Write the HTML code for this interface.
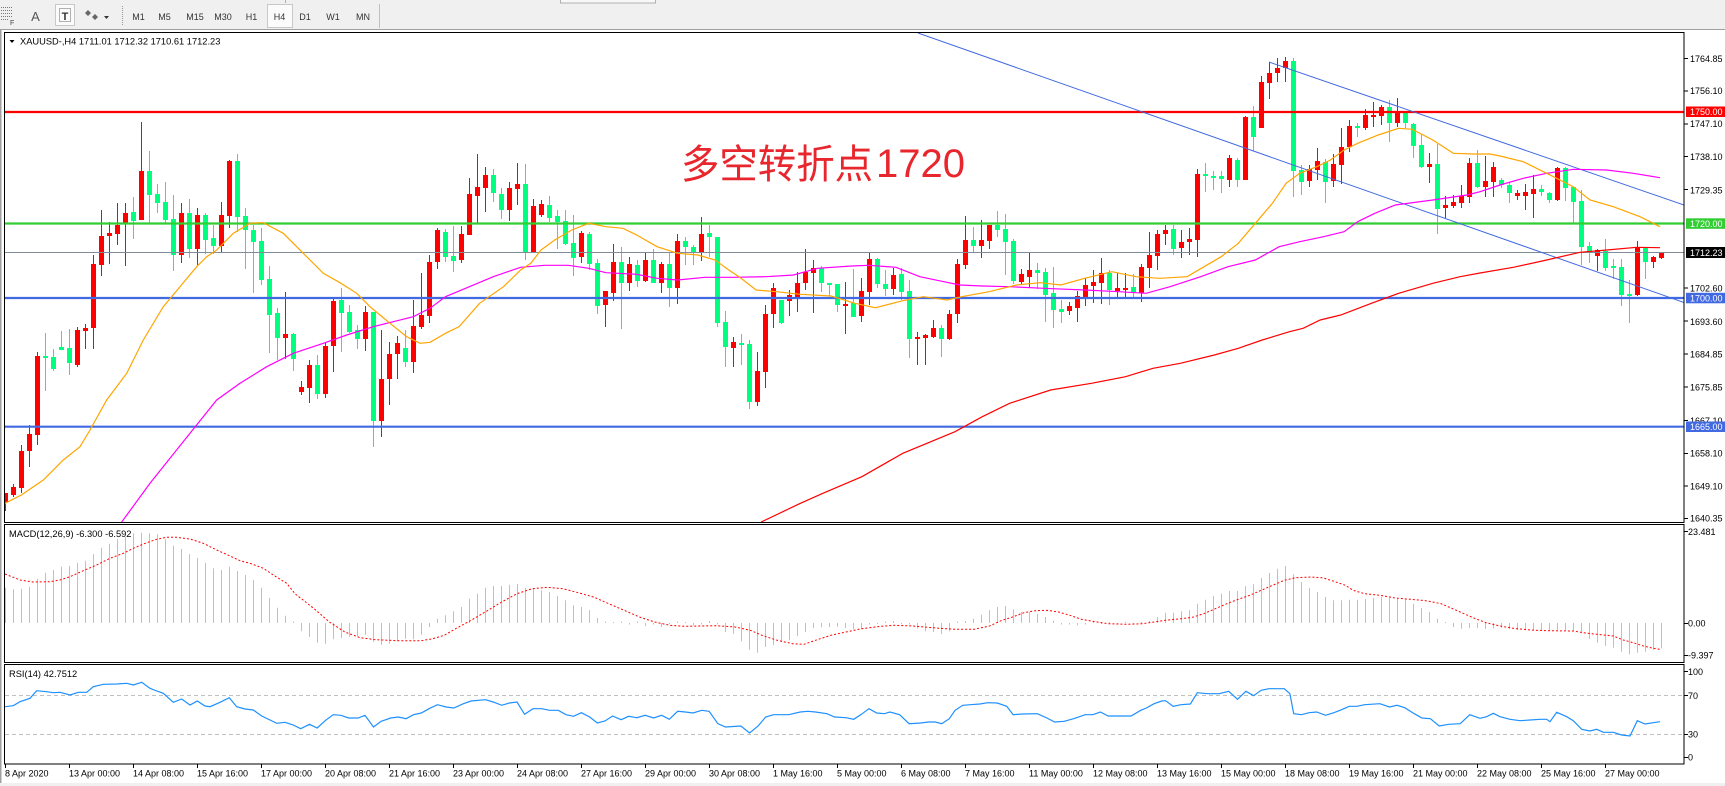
<!DOCTYPE html>
<html><head><meta charset="utf-8"><style>html,body{margin:0;padding:0;background:#fff;}svg{display:block;}</style></head>
<body>
<svg width="1725" height="786" viewBox="0 0 1725 786" xmlns="http://www.w3.org/2000/svg" font-family="'Liberation Sans', sans-serif">
<defs>
<clipPath id="cm"><rect x="5" y="33" width="1679" height="489"/></clipPath>
<clipPath id="cd"><rect x="5" y="525" width="1679" height="137"/></clipPath>
<clipPath id="cr"><rect x="5" y="665" width="1679" height="99"/></clipPath>
</defs>
<rect width="1725" height="786" fill="#ffffff"/>
<!-- toolbar -->
<rect width="1725" height="30" fill="#f0f0f0"/>
<line x1="0" y1="29.5" x2="1725" y2="29.5" stroke="#a0a0a0"/>
<rect x="560.5" y="-1" width="95" height="4" fill="#f8f8f8" stroke="#b0b0b0"/>
<line x1="285.5" y1="0" x2="285.5" y2="3" stroke="#b0b0b0"/>
<g stroke="#777" stroke-dasharray="1 1">
<line x1="1" y1="7.5" x2="12" y2="7.5"/><line x1="1" y1="10.5" x2="12" y2="10.5"/><line x1="1" y1="13.5" x2="12" y2="13.5"/><line x1="1" y1="16.5" x2="12" y2="16.5"/><line x1="1" y1="19.5" x2="9" y2="19.5"/>
</g>
<text x="10" y="25" font-size="7" fill="#444">F</text>
<text x="35.5" y="21" font-size="13" fill="#555" text-anchor="middle">A</text>
<rect x="55.5" y="4.5" width="19" height="21" fill="#fbfbfb" stroke="#c8c8c8"/>
<rect x="59.5" y="8.5" width="11" height="13" fill="none" stroke="#666" stroke-dasharray="1 1"/>
<text x="65" y="20" font-size="11" font-weight="bold" fill="#333" text-anchor="middle">T</text>
<path d="M88 10l3 3-3 3-3-3z M95 14l3 3-3 3-3-3z" fill="#666"/>
<path d="M104 16h5l-2.5 3z" fill="#333"/>
<line x1="122.5" y1="6" x2="122.5" y2="25" stroke="#999" stroke-dasharray="1 1"/>
<rect x="267.5" y="4.5" width="25" height="23" fill="#fbfbfb" stroke="#c8c8c8"/>
<g font-size="9" fill="#333" text-anchor="middle">
<text x="138.5" y="20">M1</text><text x="164.5" y="20">M5</text><text x="195" y="20">M15</text><text x="223" y="20">M30</text><text x="251.5" y="20">H1</text><text x="279.5" y="20">H4</text><text x="305" y="20">D1</text><text x="333" y="20">W1</text><text x="363" y="20">MN</text>
</g>
<line x1="379.5" y1="4" x2="379.5" y2="28" stroke="#c0c0c0"/>
<!-- left and bottom strips -->
<rect x="0" y="30" width="1.5" height="753" fill="#a0a0a0"/>
<rect x="0" y="783" width="1725" height="3" fill="#f0f0f0"/>

<!-- MAIN PANEL -->
<g clip-path="url(#cm)">
<!-- candles -->
<path fill="none" stroke="#ff0000" stroke-width="1" d="M5.5 493V511M13.5 484V497M21.5 445V493M29.5 425V467M37.5 352V445M77.5 327V367M85.5 324V349M93.5 255V349M101.5 210V276M109.5 222V264M117.5 203V245M125.5 203V266M141.5 122V220M181.5 203V263M197.5 208V265M221.5 202V252M229.5 160V228M285.5 292V359M301.5 381V395M309.5 360V403M325.5 343V398M333.5 299V372M365.5 306V351M381.5 330V437M389.5 342V405M397.5 336V379M413.5 300V373M421.5 273V329M429.5 255V323M437.5 228V269M461.5 226V263M469.5 178V235M477.5 154V223M485.5 167V212M509.5 182V221M517.5 163V205M533.5 199V252M541.5 200V217M581.5 231V263M605.5 291V327M613.5 244V301M629.5 257V291M645.5 253V282M661.5 262V293M677.5 234V304M701.5 217V261M733.5 337V367M757.5 352V406M765.5 305V388M773.5 283V328M789.5 290V316M797.5 272V312M805.5 249V290M813.5 260V313M845.5 282V334M861.5 278V322M869.5 252V305M893.5 268V295M917.5 332V365M925.5 334V365M933.5 320V338M949.5 310V340M957.5 259V323M965.5 216V269M981.5 220V258M989.5 225V249M1021.5 269V284M1029.5 253V288M1069.5 302V315M1077.5 291V322M1085.5 278V306M1093.5 270V303M1101.5 258V304M1117.5 273V298M1125.5 273V299M1141.5 264V302M1149.5 232V288M1157.5 230V270M1165.5 225V245M1181.5 230V258M1189.5 228V255M1197.5 169V257M1229.5 155V187M1245.5 116V180M1261.5 76V128M1269.5 62V99M1277.5 58V82M1285.5 57V82M1309.5 165V187M1317.5 148V180M1333.5 154V187M1341.5 128V184M1349.5 120V152M1365.5 109V130M1373.5 102V127M1381.5 105V125M1397.5 98V127M1429.5 153V183M1445.5 196V218M1453.5 195V208M1461.5 185V208M1469.5 158V203M1485.5 156V197M1493.5 162V197M1517.5 190V200M1525.5 184V210M1533.5 175V218M1557.5 167V201M1597.5 249V271M1637.5 241V296M1653.5 256V268M1661.5 252V259"/>
<path fill="none" stroke="#00ff7f" stroke-width="1" d="M45.5 333V391M53.5 349V371M61.5 331V350M69.5 329V375M133.5 197V239M149.5 151V223M157.5 184V213M165.5 182V223M173.5 195V271M189.5 199V258M205.5 213V254M213.5 225V254M237.5 154V232M245.5 208V269M253.5 225V293M261.5 228V285M269.5 266V353M277.5 308V360M293.5 333V371M317.5 355V399M341.5 288V352M349.5 305V333M357.5 325V349M373.5 312V447M405.5 330V367M445.5 229V262M453.5 226V272M493.5 169V202M501.5 188V219M525.5 164V260M549.5 196V222M557.5 210V249M565.5 210V245M573.5 215V276M589.5 232V270M597.5 259V314M621.5 247V329M637.5 260V287M653.5 249V282M669.5 253V307M685.5 237V265M693.5 245V265M709.5 225V257M717.5 237V327M725.5 311V367M741.5 334V365M749.5 340V409M781.5 300V324M821.5 266V292M829.5 283V296M837.5 284V312M853.5 269V317M877.5 258V288M885.5 270V296M901.5 268V300M909.5 280V358M941.5 325V357M973.5 227V253M997.5 211V237M1005.5 214V275M1013.5 239V284M1037.5 263V289M1045.5 268V322M1053.5 267V328M1061.5 300V323M1109.5 270V305M1133.5 274V298M1173.5 225V255M1205.5 163V192M1213.5 171V190M1221.5 171V193M1237.5 158V187M1253.5 106V151M1293.5 58V197M1301.5 165V195M1325.5 159V203M1357.5 123V137M1389.5 100V142M1405.5 111V128M1413.5 123V158M1421.5 135V168M1437.5 144V234M1477.5 150V188M1501.5 178V188M1509.5 182V203M1541.5 185V196M1549.5 192V203M1565.5 167V201M1573.5 187V223M1581.5 190V265M1589.5 242V263M1605.5 239V271M1613.5 259V279M1621.5 259V306M1629.5 280V323M1645.5 248V279"/>
<path fill="#ff0000" d="M3 493h5v9h-5zM11 487h5v8h-5zM19 451h5v37h-5zM27 434h5v17h-5zM35 356h5v79h-5zM75 330h5v35h-5zM83 328h5v3h-5zM91 264h5v64h-5zM99 236h5v29h-5zM107 233h5v3h-5zM115 225h5v9h-5zM123 213h5v10h-5zM139 171h5v49h-5zM179 213h5v42h-5zM195 215h5v34h-5zM219 215h5v31h-5zM227 161h5v55h-5zM283 334h5v4h-5zM299 387h5v5h-5zM307 365h5v23h-5zM323 346h5v48h-5zM331 301h5v45h-5zM363 312h5v27h-5zM379 379h5v42h-5zM387 354h5v25h-5zM395 343h5v11h-5zM411 326h5v36h-5zM419 315h5v12h-5zM427 262h5v54h-5zM435 230h5v32h-5zM459 234h5v26h-5zM467 194h5v41h-5zM475 187h5v9h-5zM483 175h5v13h-5zM507 188h5v22h-5zM515 184h5v5h-5zM531 206h5v46h-5zM539 204h5v11h-5zM579 233h5v24h-5zM603 291h5v14h-5zM611 262h5v31h-5zM627 264h5v19h-5zM643 260h5v21h-5zM659 264h5v19h-5zM675 241h5v47h-5zM699 234h5v18h-5zM731 342h5v6h-5zM755 371h5v31h-5zM763 314h5v58h-5zM771 288h5v26h-5zM787 295h5v6h-5zM795 283h5v14h-5zM803 272h5v11h-5zM811 268h5v5h-5zM843 304h5v2h-5zM859 291h5v25h-5zM867 259h5v33h-5zM891 275h5v14h-5zM915 337h5v2h-5zM923 335h5v3h-5zM931 328h5v9h-5zM947 314h5v25h-5zM955 264h5v50h-5zM963 240h5v25h-5zM979 240h5v6h-5zM987 225h5v16h-5zM1019 274h5v8h-5zM1027 270h5v7h-5zM1067 306h5v5h-5zM1075 296h5v12h-5zM1083 285h5v12h-5zM1091 282h5v4h-5zM1099 273h5v10h-5zM1115 288h5v3h-5zM1123 288h5v2h-5zM1139 267h5v26h-5zM1147 255h5v13h-5zM1155 234h5v22h-5zM1163 230h5v4h-5zM1179 242h5v6h-5zM1187 239h5v3h-5zM1195 174h5v66h-5zM1227 158h5v22h-5zM1243 117h5v63h-5zM1259 82h5v46h-5zM1267 73h5v10h-5zM1275 68h5v5h-5zM1283 61h5v7h-5zM1307 169h5v12h-5zM1315 161h5v9h-5zM1331 164h5v17h-5zM1339 147h5v18h-5zM1347 126h5v21h-5zM1363 115h5v13h-5zM1371 115h5v2h-5zM1379 107h5v9h-5zM1395 112h5v11h-5zM1427 164h5v3h-5zM1443 205h5v3h-5zM1451 202h5v4h-5zM1459 196h5v7h-5zM1467 163h5v34h-5zM1483 181h5v6h-5zM1491 167h5v15h-5zM1515 193h5v3h-5zM1523 192h5v4h-5zM1531 189h5v5h-5zM1555 168h5v32h-5zM1595 250h5v6h-5zM1635 247h5v48h-5zM1651 257h5v5h-5zM1659 252h5v6h-5z"/>
<path fill="#00ff7f" d="M43 356h5v2h-5zM51 357h5v12h-5zM59 347h5v3h-5zM67 348h5v15h-5zM131 212h5v9h-5zM147 171h5v24h-5zM155 194h5v9h-5zM163 202h5v18h-5zM171 219h5v36h-5zM187 213h5v36h-5zM203 215h5v25h-5zM211 238h5v8h-5zM235 161h5v56h-5zM243 216h5v14h-5zM251 230h5v12h-5zM259 241h5v39h-5zM267 279h5v36h-5zM275 313h5v25h-5zM291 334h5v25h-5zM315 365h5v29h-5zM339 300h5v13h-5zM347 312h5v20h-5zM355 330h5v9h-5zM371 312h5v109h-5zM403 348h5v14h-5zM443 232h5v25h-5zM451 256h5v5h-5zM491 175h5v18h-5zM499 194h5v16h-5zM523 184h5v68h-5zM547 205h5v13h-5zM555 216h5v6h-5zM563 221h5v23h-5zM571 243h5v15h-5zM587 234h5v30h-5zM595 263h5v43h-5zM619 262h5v21h-5zM635 265h5v16h-5zM651 260h5v23h-5zM667 264h5v24h-5zM683 241h5v6h-5zM691 247h5v5h-5zM707 233h5v4h-5zM715 237h5v86h-5zM723 322h5v25h-5zM739 343h5v2h-5zM747 344h5v58h-5zM779 300h5v23h-5zM819 268h5v15h-5zM827 283h5v2h-5zM835 284h5v21h-5zM851 303h5v14h-5zM875 259h5v25h-5zM883 284h5v5h-5zM899 274h5v18h-5zM907 291h5v48h-5zM939 328h5v11h-5zM971 240h5v6h-5zM995 225h5v5h-5zM1003 229h5v13h-5zM1011 241h5v40h-5zM1035 270h5v3h-5zM1043 272h5v23h-5zM1051 293h5v17h-5zM1059 309h5v3h-5zM1107 273h5v17h-5zM1131 287h5v5h-5zM1171 229h5v20h-5zM1203 174h5v2h-5zM1211 176h5v2h-5zM1219 176h5v3h-5zM1235 160h5v20h-5zM1251 117h5v20h-5zM1291 61h5v110h-5zM1299 170h5v12h-5zM1323 162h5v20h-5zM1355 126h5v2h-5zM1387 107h5v16h-5zM1403 113h5v10h-5zM1411 124h5v22h-5zM1419 145h5v22h-5zM1435 164h5v45h-5zM1475 163h5v24h-5zM1499 180h5v5h-5zM1507 185h5v8h-5zM1539 189h5v3h-5zM1547 193h5v7h-5zM1563 168h5v20h-5zM1571 187h5v15h-5zM1579 201h5v46h-5zM1587 246h5v7h-5zM1603 251h5v17h-5zM1611 266h5v2h-5zM1619 267h5v28h-5zM1627 294h5v2h-5zM1643 248h5v14h-5z"/>
<!-- horizontal levels -->
<line x1="4" y1="252.5" x2="1684" y2="252.5" stroke="#7f8c99" stroke-width="1"/>
<line x1="4" y1="112" x2="1684" y2="112" stroke="#ff0000" stroke-width="2.2"/>
<line x1="4" y1="223.5" x2="1684" y2="223.5" stroke="#32cd32" stroke-width="2.2"/>
<line x1="4" y1="298" x2="1684" y2="298" stroke="#4169e1" stroke-width="2.2"/>
<line x1="4" y1="426.7" x2="1684" y2="426.7" stroke="#4169e1" stroke-width="2.2"/>
<!-- trend lines -->
<line x1="918" y1="33" x2="1684" y2="302.5" stroke="#4169e1" stroke-width="1"/>
<line x1="1269" y1="62" x2="1684" y2="205" stroke="#4169e1" stroke-width="1"/>
<!-- MAs -->
<polyline fill="none" stroke="#ff0000" stroke-width="1.2" points="761.2,522 800.4,503.3 824.3,492.7 861.9,476.7 902.8,453.3 955,431.7 982.3,416.7 1009.6,403.3 1050.6,390 1091.5,383.3 1125.6,376.7 1153,368.3 1180.3,363.3 1214.4,355 1238.3,348.3 1262.2,340 1289.5,331.7 1303.1,328.3 1320.2,320 1340.7,315 1371.4,303.3 1398.7,293.3 1432.8,283.3 1460.1,276.7 1480,273 1513.3,267.3 1546.7,260 1580,252.3 1606.7,250 1636.7,247.3 1660,247.7"/>
<polyline fill="none" stroke="#ff00ff" stroke-width="1.2" points="121.7,522 150,483.3 190,433.3 216.7,400 240,383.3 266.7,366.7 293.3,353.3 323.3,343.3 346.7,335 373.3,326.7 393.3,321.7 413.3,316.7 430,308.3 445.5,296.7 469.4,286.7 493.3,276.7 520.6,267.3 544.5,265.3 568.3,265.3 588.8,268.3 605.9,272.7 636.6,274.3 657.1,278.3 677.6,280 704.9,277.3 732.2,277.3 766.3,276.7 793.6,275 817.5,268.3 851.6,266 868.7,265.3 896,267.3 919.9,276.7 943.8,281.7 960,285 982.3,286 1009.6,286.7 1043.7,288.3 1084.7,290 1118.8,291.7 1146.1,293.3 1170,286.7 1200.7,276.7 1228,266.7 1255.3,260 1279.2,246.7 1299.7,241.7 1323.6,236.7 1344.1,231.7 1357.7,221.7 1374.8,213.3 1395.3,205 1432.8,200 1467,195 1480,191.7 1500,185 1523.3,178.3 1546.7,173.3 1573.3,169.3 1606.7,170 1633.3,173.3 1660,177.7"/>
<polyline fill="none" stroke="#ffa500" stroke-width="1.2" points="5,503.3 21.3,495 43.3,480 63.3,460 80,446.7 90,430 106.7,400 126.7,373.3 143.3,340 163.3,306.7 180,286.7 196.7,266.7 206.7,256.7 216.7,250 233.3,233.3 250,223.3 263.3,222.7 283.3,233.3 303.3,253.3 323.3,273.3 340,282.7 356.7,293.3 370,306.7 390,323.3 406.7,336.7 420,343.3 430,342.3 445.5,333.3 459.1,326.7 479.6,303.3 503.5,286.7 520.6,270 530.8,263.3 541,250 554.7,240 571.8,230 588.8,223.3 605.9,226.7 623,228.3 636.6,235 657.1,246.7 677.6,253.3 698,255 715.1,260 728.8,270 739,276.7 756.1,290 776.5,291.7 800.4,294.3 831.1,296 855,303.3 875.5,307.7 902.8,300.7 923.3,296.7 947.2,300 961.8,296.7 989.1,291.7 1016.4,285 1040.3,282.7 1060.8,285 1084.7,278.3 1112,271.7 1135.9,276.7 1159.8,278.3 1187.1,276.7 1204.1,266.7 1221.2,256.7 1238.3,243.3 1255.3,223.3 1272.4,203.3 1286.1,183.3 1299.7,173.3 1316.8,166.7 1330.4,160 1344.1,150 1357.7,143.3 1378.2,135 1398.7,128.3 1412.3,129.3 1432.8,140 1453.3,153.3 1473.8,154 1490,154 1500,156 1523.3,161.7 1546.7,173.3 1573.3,186.7 1590,200 1613.3,206.7 1640,216.7 1660,226.7"/>
<!-- annotation -->
<text x="681" y="178" font-size="40" fill="#e8262d" font-family="'Liberation Sans','Noto Sans CJK SC',sans-serif" textLength="192" lengthAdjust="spacingAndGlyphs">多空转折点</text>
<text x="876" y="177" font-size="40" fill="#e8262d">1720</text>
</g>
<!-- header -->
<path d="M9.5 40h5l-2.5 3z" fill="#000"/>
<text x="20" y="44.5" font-size="9.3" fill="#000">XAUUSD-,H4  1711.01 1712.32 1710.61 1712.23</text>

<!-- MACD PANEL -->
<g clip-path="url(#cd)">
<path fill="none" stroke="#c0c0c0" stroke-width="1" d="M5.5 623V587.7M13.5 623V589.3M21.5 623V588.7M29.5 623V586.7M37.5 623V579M45.5 623V572.7M53.5 623V570M61.5 623V566.7M69.5 623V565.7M77.5 623V562.7M85.5 623V560.7M93.5 623V554.3M101.5 623V547.7M109.5 623V543.7M117.5 623V539.3M125.5 623V536.7M133.5 623V533.3M141.5 623V532.7M149.5 623V533.3M157.5 623V534.3M165.5 623V539.3M173.5 623V545.7M181.5 623V549M189.5 623V554.3M197.5 623V557.7M205.5 623V562.7M213.5 623V568.3M221.5 623V570M229.5 623V566.7M237.5 623V571M245.5 623V575M253.5 623V580M261.5 623V587.7M269.5 623V597.7M277.5 623V607.7M285.5 623V615.7M293.5 623V621.5M301.5 623V631.3M309.5 623V637M317.5 623V642.7M325.5 623V643.7M333.5 623V639.3M341.5 623V638M349.5 623V637M357.5 623V636.3M365.5 623V634.7M373.5 623V642M381.5 623V644.7M389.5 623V643.7M397.5 623V641.3M405.5 623V638.7M413.5 623V639.3M421.5 623V634.7M429.5 623V627M437.5 623V618.7M445.5 623V615.3M453.5 623V611.3M461.5 623V607M469.5 623V598.7M477.5 623V593.7M485.5 623V587.7M493.5 623V586M501.5 623V586M509.5 623V584.7M517.5 623V584M525.5 623V588M533.5 623V588.7M541.5 623V590.3M549.5 623V592M557.5 623V596M565.5 623V600.3M573.5 623V605.3M581.5 623V607M589.5 623V610.3M597.5 623V618M605.5 623V621.5M613.5 623V622M621.5 623V621.5M629.5 623V624.5M637.5 623V621.5M645.5 623V626.3M653.5 623V624.5M661.5 623V627M669.5 623V624M677.5 623V621.5M685.5 623V622M693.5 623V625.3M701.5 623V624.5M709.5 623V621M717.5 623V624.5M725.5 623V632M733.5 623V633.7M741.5 623V641.3M749.5 623V649.7M757.5 623V652.7M765.5 623V647M773.5 623V645.3M781.5 623V642M789.5 623V640.3M797.5 623V636M805.5 623V632M813.5 623V628M821.5 623V627.3M829.5 623V627M837.5 623V626.7M845.5 623V628M853.5 623V629.3M861.5 623V628.7M869.5 623V624.5M877.5 623V624M885.5 623V621.5M893.5 623V621.3M901.5 623V624M909.5 623V624.5M917.5 623V628.7M925.5 623V631.3M933.5 623V632M941.5 623V634.3M949.5 623V631.3M957.5 623V621.5M965.5 623V621.3M973.5 623V618.7M981.5 623V614.7M989.5 623V610.3M997.5 623V607M1005.5 623V606M1013.5 623V609.3M1021.5 623V612M1029.5 623V612M1037.5 623V613.7M1045.5 623V617M1053.5 623V620.7M1061.5 623V624.5M1069.5 623V624.5M1077.5 623V625.3M1085.5 623V624.5M1093.5 623V622M1101.5 623V624M1109.5 623V622M1117.5 623V624M1125.5 623V622M1133.5 623V624M1141.5 623V622M1149.5 623V621M1157.5 623V617M1165.5 623V612.7M1173.5 623V612.7M1181.5 623V611.3M1189.5 623V610.3M1197.5 623V603.7M1205.5 623V599.7M1213.5 623V596M1221.5 623V593.7M1229.5 623V591M1237.5 623V591M1245.5 623V586.3M1253.5 623V584.3M1261.5 623V578M1269.5 623V573M1277.5 623V568.7M1285.5 623V566M1293.5 623V574.3M1301.5 623V582M1309.5 623V588M1317.5 623V592M1325.5 623V597M1333.5 623V600.3M1341.5 623V600.3M1349.5 623V599.7M1357.5 623V599.7M1365.5 623V599M1373.5 623V598M1381.5 623V597M1389.5 623V598M1397.5 623V598.7M1405.5 623V598.7M1413.5 623V603.7M1421.5 623V608M1429.5 623V612M1437.5 623V618.7M1445.5 623V622M1453.5 623V627M1461.5 623V628.7M1469.5 623V628M1477.5 623V628M1485.5 623V629M1493.5 623V628.3M1501.5 623V627.7M1509.5 623V629M1517.5 623V630M1525.5 623V630M1533.5 623V630M1541.5 623V630M1549.5 623V630.7M1557.5 623V630M1565.5 623V630M1573.5 623V631M1581.5 623V633.3M1589.5 623V639M1597.5 623V642.7M1605.5 623V645.7M1613.5 623V647.7M1621.5 623V651.7M1629.5 623V654.3M1637.5 623V652.7M1645.5 623V651.7M1653.5 623V650M1661.5 623V648.3"/>
<polyline fill="none" stroke="#ff0000" stroke-width="1" stroke-dasharray="2 2" points="5,574 20,580 33.3,582 50,581.7 60,580 70,576.7 83.3,570.7 96.7,565 110,558.3 123.3,553.3 133.3,548.3 146.7,542.7 156.7,539.3 166.7,537.3 176.7,537.3 190,539 203.3,543.3 216.7,550 230,556 240,560.7 250,563.3 263.3,568.3 273.3,575 286.7,583.3 295,593.7 314.1,608.7 329.4,622 344.8,632 360.1,637.7 375.4,639.7 398.3,640.7 421.3,640.7 432.8,638.7 444.3,635.3 455.7,628.7 471,620.3 486.4,611.3 501.7,602 517,593.7 532.3,588.7 547.6,587.3 562.9,588.7 578.2,592.7 593.5,597 608.8,603.7 624.1,610.3 639.4,617 654.7,622 670,625.3 685.4,626.3 716,625.7 735.1,627 750.4,630.3 761.9,635.3 777.2,640.3 792.5,643.7 803.9,644.3 815.4,640.3 830.7,635.3 846,632 861.4,628.7 880.5,626.3 895,625.3 913,626 935.9,628 955.1,629.3 974.2,629.3 989.5,626 1001,620.7 1012.5,617 1023.9,612.7 1035.4,610.7 1046.9,610.3 1058.4,612 1069.9,615.3 1081.4,619.3 1092.8,621.3 1108.1,623.7 1127.3,624.3 1142.6,623.7 1154.1,622 1165.5,620.3 1180.9,618.7 1192.3,617.3 1203.8,613.7 1215.3,608.7 1226.8,603.7 1238.3,599.3 1249.7,595.3 1261.2,590.3 1272.7,585.3 1284.2,580.3 1295.7,577.7 1311,577 1322.5,577.7 1333.9,581.3 1345.4,585.3 1353.1,590.3 1364.6,593.7 1379.9,595.3 1395.2,598 1410.5,599.3 1425.8,600.7 1441.1,603.7 1452.6,608.7 1464,613.7 1475.5,618.7 1486.9,623 1500,626 1513.3,628.3 1530,630 1546.7,630.7 1573.3,631 1583.3,632.7 1596.7,634.3 1613.3,636 1623.3,640 1633.3,642.7 1643.3,646 1653.3,648.3 1660,649.3"/>
</g>
<text x="9" y="536.8" font-size="9.3" fill="#000">MACD(12,26,9) -6.300 -6.592</text>

<!-- RSI PANEL -->
<g clip-path="url(#cr)">
<line x1="5" y1="695.5" x2="1684" y2="695.5" stroke="#c0c0c0" stroke-dasharray="4 3"/>
<line x1="5" y1="734.5" x2="1684" y2="734.5" stroke="#c0c0c0" stroke-dasharray="4 3"/>
<polyline fill="none" stroke="#1e90ff" stroke-width="1.2" points="5,706.7 13.3,705.7 20,701.7 30,698.3 36.7,690.7 46.7,691.7 53.3,692.7 60,692.3 70,695 78.3,692.3 86.7,692.3 93.3,686.7 103.3,684.3 116.7,684 126.7,683.3 133.3,685 141.7,682.3 150,688.3 156.7,691 163.3,693.3 173.3,702.3 181.7,699 190,705 197.3,701 205,706 210,706.7 220,702.3 229.3,697.7 236.7,706.7 245,709 253.3,710 261.7,716 270,720 276.7,723.3 285,722.3 293.3,725 300.7,728.7 309.5,724.3 317.2,728 325.6,720.3 333.3,714.7 340.9,715.3 348.6,718 358.1,718 365,715.3 373.5,727 381.1,721.3 390.7,718 398.3,717 406,718.7 413.6,714.7 421.3,713 429,708.7 437.4,704.7 446.2,707 453.8,708 463.4,703.7 471,701 485.6,699.7 493.2,702 501.7,705.3 509.3,703 517,702 524.6,714.3 533,708.7 541.8,708.7 549.5,710.3 558.3,710.3 566,714.7 573.6,716.3 581.3,712.7 589.7,717 597.3,723 605,721 612.6,716 621.1,719.7 628.7,716.3 636.8,717.7 645.2,715.3 653.6,718 661.6,715.3 669.3,719.3 677.7,711.3 685.4,712 693,713 701.8,710.3 709.1,711.3 717.9,723.7 725.5,727 740.9,726 749.6,733 758.1,726 765.7,717 773.4,714.7 788.7,714.7 800.2,712 807.8,711.3 815.5,712 826.9,713.7 834.6,717 846.1,717.7 853.7,719.3 861.4,714.3 869,708.7 876.7,713 884.4,713.7 890,712 899.6,714.7 909.1,723.7 920.6,723 928.3,722 935.2,722 941.7,723.7 949.3,718.7 955.1,710.3 962.7,705.3 970.4,704.7 979.9,704 987.6,702.7 997.2,703 1006.7,706.3 1013.2,714.7 1022,714 1037.3,713.7 1046.9,718 1054.6,722 1064.1,721.3 1073.7,718.7 1085.2,714.7 1092.8,714.7 1100.5,712 1108.1,716 1119.6,716 1131.1,716 1140.7,710.3 1146.4,708 1154.1,703.7 1161.7,701 1165.5,700.7 1173.2,706.3 1180.9,704.7 1190.4,704 1197.3,692.7 1207.6,693.7 1219.1,693.7 1228.7,691.3 1237.5,699.3 1245.9,691.3 1253.6,695.7 1261.2,690.3 1268.9,688.7 1284.2,688.7 1289.9,693.7 1293.7,713.7 1301.4,714.7 1309.1,712.7 1316.7,712 1325.5,715.3 1333.9,712.7 1341.6,709.7 1349.2,706.3 1356.9,706.3 1364.6,704.7 1379.9,703.7 1389.4,707 1397.1,705.3 1404.7,707.7 1414.3,713.7 1421.9,718 1430.4,718.7 1439.2,726 1448.7,724.3 1460.2,723.7 1469.8,714.7 1480,718.3 1486.7,716.7 1493.3,713.3 1500,716.7 1510,719.3 1520,720.7 1530,720 1540,719.3 1546.7,719.3 1550,721.7 1556.7,712.3 1566.7,716.7 1573.3,720.7 1581.7,729.3 1590,731 1596.7,729.3 1603.3,732.3 1613.3,732.3 1621.7,735 1630,736 1637.3,720.7 1645,724 1653.3,722.7 1660,721.7"/>
</g>
<text x="9" y="676.8" font-size="9.3" fill="#000">RSI(14) 42.7512</text>

<!-- panel borders -->
<g fill="none" stroke="#000" stroke-width="1">
<rect x="4.5" y="32.5" width="1679.5" height="490"/>
<rect x="4.5" y="524.5" width="1679.5" height="138"/>
<rect x="4.5" y="664.5" width="1679.5" height="99.5"/>
</g>

<!-- price axis -->
<g stroke="#000" stroke-width="1">
<path d="M1684 58.5h4M1684 91h4M1684 124h4M1684 156.5h4M1684 189.5h4M1684 288h4M1684 321h4M1684 354h4M1684 387h4M1684 420.5h4M1684 453.5h4M1684 486h4M1684 518.5h4M1684 531.5h4M1684 623.5h4M1684 655.5h4M1684 671.5h4M1684 695.5h4M1684 734.5h4M1684 757.5h4"/>
</g>
<g font-size="9" fill="#000">
<text x="1690" y="61.8">1764.85</text>
<text x="1690" y="94">1756.10</text>
<text x="1690" y="127">1747.10</text>
<text x="1690" y="160">1738.10</text>
<text x="1690" y="193.3">1729.35</text>
<text x="1690" y="291.6">1702.60</text>
<text x="1690" y="325">1693.60</text>
<text x="1690" y="357.6">1684.85</text>
<text x="1690" y="390.6">1675.85</text>
<text x="1690" y="424">1667.10</text>
<text x="1690" y="456.6">1658.10</text>
<text x="1690" y="489.3">1649.10</text>
<text x="1690" y="521.6">1640.35</text>
<text x="1688" y="535">23.481</text>
<text x="1688" y="626.6">0.00</text>
<text x="1688" y="658.6">-9.397</text>
<text x="1688" y="675">100</text>
<text x="1688" y="699">70</text>
<text x="1688" y="737.6">30</text>
<text x="1688" y="760.6">0</text>
</g>
<rect x="1686" y="106.5" width="39" height="10.5" fill="#ff0000"/>
<rect x="1686" y="218.3" width="39" height="10.5" fill="#32cd32"/>
<rect x="1686" y="247" width="39" height="11" fill="#000000"/>
<rect x="1686" y="292.8" width="39" height="10.5" fill="#4169e1"/>
<rect x="1686" y="421.5" width="39" height="10.5" fill="#4169e1"/>
<g font-size="9" fill="#ffffff">
<text x="1690" y="115">1750.00</text>
<text x="1690" y="226.8">1720.00</text>
<text x="1690" y="255.8">1712.23</text>
<text x="1690" y="301.3">1700.00</text>
<text x="1690" y="430">1665.00</text>
</g>

<!-- time axis -->
<path stroke="#000" stroke-width="1" d="M5.5 764v4M69.5 764v4M133.5 764v4M197.5 764v4M261.5 764v4M325.5 764v4M389.5 764v4M453.5 764v4M517.5 764v4M581.5 764v4M645.5 764v4M709.5 764v4M773.5 764v4M837.5 764v4M901.5 764v4M965.5 764v4M1029.5 764v4M1093.5 764v4M1157.5 764v4M1221.5 764v4M1285.5 764v4M1349.5 764v4M1413.5 764v4M1477.5 764v4M1541.5 764v4M1605.5 764v4"/>
<g font-size="9" fill="#000">
<text x="5" y="776.5">8 Apr 2020</text>
<text x="69" y="776.5">13 Apr 00:00</text>
<text x="133" y="776.5">14 Apr 08:00</text>
<text x="197" y="776.5">15 Apr 16:00</text>
<text x="261" y="776.5">17 Apr 00:00</text>
<text x="325" y="776.5">20 Apr 08:00</text>
<text x="389" y="776.5">21 Apr 16:00</text>
<text x="453" y="776.5">23 Apr 00:00</text>
<text x="517" y="776.5">24 Apr 08:00</text>
<text x="581" y="776.5">27 Apr 16:00</text>
<text x="645" y="776.5">29 Apr 00:00</text>
<text x="709" y="776.5">30 Apr 08:00</text>
<text x="773" y="776.5">1 May 16:00</text>
<text x="837" y="776.5">5 May 00:00</text>
<text x="901" y="776.5">6 May 08:00</text>
<text x="965" y="776.5">7 May 16:00</text>
<text x="1029" y="776.5">11 May 00:00</text>
<text x="1093" y="776.5">12 May 08:00</text>
<text x="1157" y="776.5">13 May 16:00</text>
<text x="1221" y="776.5">15 May 00:00</text>
<text x="1285" y="776.5">18 May 08:00</text>
<text x="1349" y="776.5">19 May 16:00</text>
<text x="1413" y="776.5">21 May 00:00</text>
<text x="1477" y="776.5">22 May 08:00</text>
<text x="1541" y="776.5">25 May 16:00</text>
<text x="1605" y="776.5">27 May 00:00</text>
</g>
</svg>
</body></html>
